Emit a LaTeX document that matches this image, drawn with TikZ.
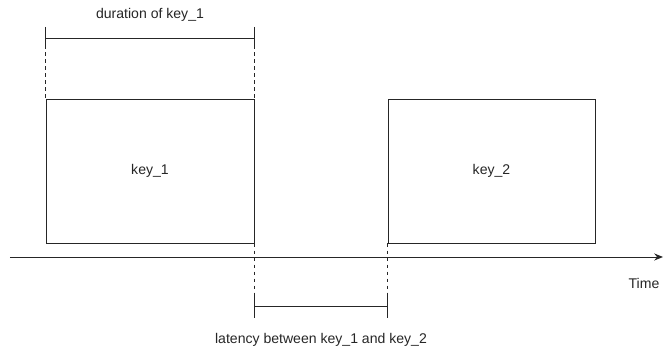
\documentclass[tikz,border=0pt]{standalone}
\usepackage{fontspec}
\setmainfont{Liberation Sans}
\usetikzlibrary{arrows.meta}

\begin{document}
\begin{tikzpicture}[
		line width=0.55pt, color=black!85,
		keybox/.style={draw, rectangle, minimum width=4.16cm, minimum height=2.88cm, inner sep=0pt},
		lbl/.style={font=\fontsize{8pt}{10pt}\selectfont, text=black!85, inner sep=1pt},
		guide/.style={dashed, dash pattern=on 2pt off 2pt}
	]
			\useasboundingbox (0,0) rectangle (13.28,7.08);
			% the two keys
			\node[keybox, label={[lbl]center:key\_1}] (key1) at (3.0,3.66) {};
			\node[keybox, minimum width=4.14cm, label={[lbl]center:key\_2}] (key2) at (9.83,3.66) {};
			% time axis
			\coordinate (t0) at (0.2,1.94);
			\coordinate (t1) at (13.26,1.94);
			\draw[-{Stealth[length=5pt,width=4pt]}] (t0) -- (t1);
			\node[lbl] (time) at (12.88,1.42) {Time};
			% duration of key_1
			\coordinate (da) at (key1.north west |- 0,6.32);
			\coordinate (db) at (key1.north east |- 0,6.32);
			\draw (da) -- (db);
			\draw ([yshift=0.22cm]da) -- ([yshift=-0.14cm]da);
			\draw ([yshift=0.22cm]db) -- ([yshift=-0.14cm]db);
			\draw[guide] ([yshift=-0.14cm]da) -- (key1.north west);
			\draw[guide] ([yshift=-0.14cm]db) -- (key1.north east);
			\node[lbl] (dur) at (3.0,6.78) {duration of key\_1};
			% latency between the keys
			\coordinate (la) at (key1.south east |- 0,0.96);
			\coordinate (lb) at (key2.south west |- 0,0.96);
			\draw (la) -- (lb);
			\draw ([yshift=0.26cm]la) -- ([yshift=-0.24cm]la);
			\draw ([yshift=0.26cm]lb) -- ([yshift=-0.24cm]lb);
			\draw[guide] (key1.south east) -- ([yshift=0.26cm]la);
			\draw[guide] (key2.south west) -- ([yshift=0.26cm]lb);
			\node[lbl] (lat) at (6.42,0.28) {latency between key\_1 and key\_2};
		\end{tikzpicture}
\end{document}
